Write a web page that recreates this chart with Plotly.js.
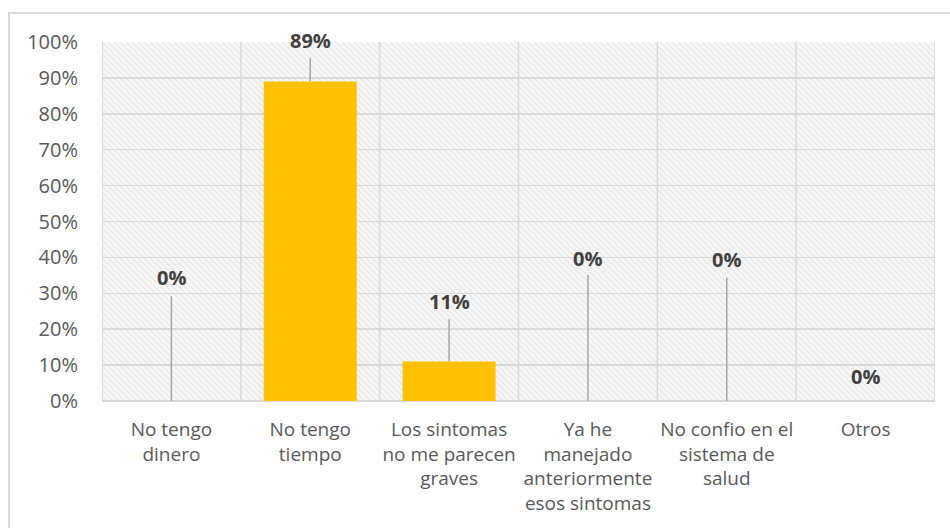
<!DOCTYPE html>
<html>
<head>
<meta charset="utf-8">
<script src="https://cdn.plot.ly/plotly-3.0.1.min.js"></script>
<style>
  html, body { margin: 0; padding: 0; background: #ffffff; }
  #chart { width: 950px; height: 528px; }
</style>
</head>
<body>
<div id="chart"></div>
<script>
// ---- Data ----
const categories = [
  "No tengo<br>dinero",
  "No tengo<br>tiempo",
  "Los sintomas<br>no me parecen<br>graves",
  "Ya he<br>manejado<br>anteriormente<br>esos sintomas",
  "No confio en el<br>sistema de<br>salud",
  "Otros"
];
const values = [0, 0.89, 0.11, 0, 0, 0];

// ---- Label placement (style only, fraction of plot height) ----
const labelY   = [0.343, 1.005, 0.276, 0.398, 0.393, 0.067];
const leaderTop = [0.292, 0.955, 0.228, 0.351, 0.343, null];

const FONT = '"Open Sans", "Liberation Sans", sans-serif';
const gridCol = '#d9d9d9';
const leaderCol = '#a6a6a6';

// hatch background image
const svg = '<svg xmlns="http://www.w3.org/2000/svg" width="833" height="359">' +
  '<defs><pattern id="p" width="6" height="6" patternUnits="userSpaceOnUse">' +
  '<rect width="6" height="6" fill="#f8f8f8"/>' +
  '<path d="M-2,-2 L8,8 M-2,4 L2,8 M4,-2 L8,2" stroke="#ebebeb" stroke-width="1.6"/>' +
  '</pattern></defs><rect width="833" height="359" fill="url(#p)"/></svg>';
const bgSrc = 'data:image/svg+xml;charset=utf-8,' + encodeURIComponent(svg);

const annotations = values.map((v, i) => ({
  x: i, y: labelY[i], xref: 'x', yref: 'paper',
  text: '<b>' + Math.round(v * 100) + '%</b>',
  showarrow: false, xanchor: 'center', yanchor: 'middle',
  font: { family: FONT, size: 20, color: '#404040' }
}));

const shapes = [];
values.forEach((v, i) => {
  if (leaderTop[i] !== null) {
    shapes.push({
      type: 'line', xref: 'x', yref: 'y',
      x0: i, x1: i, y0: v, y1: leaderTop[i],
      line: { color: leaderCol, width: 1.5 }
    });
  }
});
// outer chart frame
shapes.push({
  type: 'rect', xref: 'paper', yref: 'paper',
  x0: -0.1116, x1: 1.03, y0: -0.4, y1: 1.0808,
  line: { color: '#d9d9d9', width: 2 }, fillcolor: 'rgba(0,0,0,0)', layer: 'below'
});

const trace = {
  type: 'bar',
  x: categories.map((c, i) => i),
  y: values,
  marker: { color: '#FFC000' },
  width: 0.67,
  hoverinfo: 'skip'
};

const layout = {
  width: 950, height: 528,
  margin: { l: 102, r: 15, t: 42, b: 127, pad: 0 },
  paper_bgcolor: '#ffffff',
  plot_bgcolor: 'rgba(0,0,0,0)',
  showlegend: false,
  font: { family: FONT, size: 19, color: '#595959' },
  xaxis: {
    type: 'linear',
    range: [-0.5, 5.5],
    tickmode: 'array',
    tickvals: categories.map((c, i) => i),
    ticktext: categories,
    showgrid: false,
    zeroline: false,
    showline: false,
    ticks: '',
    ticklabelstandoff: 15,
    tickfont: { family: FONT, size: 19, color: '#595959' },
    fixedrange: true
  },
  yaxis: {
    range: [0, 1],
    dtick: 0.1,
    tick0: 0,
    tickformat: '.0%',
    showgrid: true,
    gridcolor: gridCol,
    gridwidth: 1.5,
    zeroline: false,
    showline: false,
    ticks: '',
    ticklabelstandoff: 23,
    tickfont: { family: FONT, size: 20, color: '#595959' },
    fixedrange: true
  },
  images: [{
    source: bgSrc, xref: 'paper', yref: 'paper',
    x: 0, y: 1, sizex: 1, sizey: 1, sizing: 'stretch',
    xanchor: 'left', yanchor: 'top', layer: 'below'
  }],
  annotations: annotations,
  shapes: shapes
};

// vertical gridlines at category boundaries
for (let b = 0; b <= categories.length; b++) {
  layout.shapes.push({
    type: 'line', xref: 'x', yref: 'paper',
    x0: b - 0.5, x1: b - 0.5, y0: 0, y1: 1,
    line: { color: gridCol, width: 1.5 }, layer: 'below'
  });
}
// bottom border of plot
layout.shapes.push({
  type: 'line', xref: 'paper', yref: 'paper', x0: 0, x1: 1, y0: 0, y1: 0,
  line: { color: gridCol, width: 2 }, layer: 'below'
});

Plotly.newPlot('chart', [trace], layout, { displayModeBar: false, staticPlot: true });
</script>
</body>
</html>
